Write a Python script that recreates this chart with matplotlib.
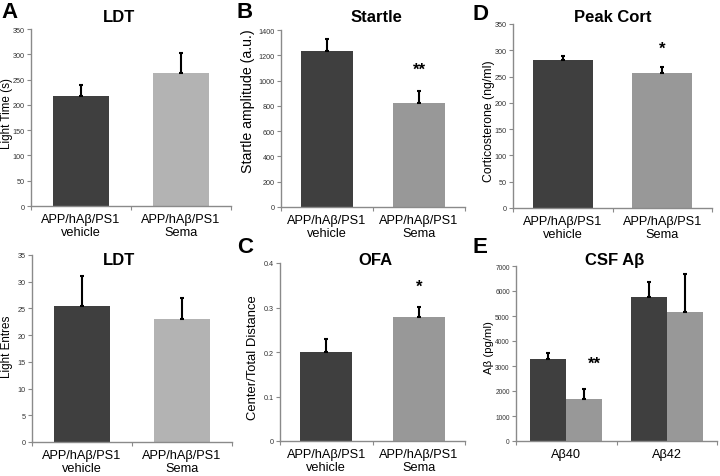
import numpy as np
import matplotlib
matplotlib.use("Agg")
import matplotlib.pyplot as plt

plt.rcParams['font.family'] = ['Liberation Sans', 'DejaVu Sans']

# data
groups = ['APP/hA\u03b2/PS1\nvehicle', 'APP/hA\u03b2/PS1\nSema']

ldt_time = [217, 263]
ldt_time_err = [23, 39]

ldt_entries = [25.5, 23.1]
ldt_entries_err = [5.5, 3.9]

startle = [1235, 822]
startle_err = [95, 98]

ofa = [0.200, 0.278]
ofa_err = [0.030, 0.024]

cort = [282, 257]
cort_err = [8, 11]

ab_labels = ['A\u03b240', 'A\u03b242']
ab_vehicle = [3300, 5750]
ab_vehicle_err = [230, 620]
ab_sema = [1690, 5180]
ab_sema_err = [400, 1500]

dark = '#3f3f3f'
light_a = '#b3b3b3'
light = '#989898'
W, H = 720, 477

fig = plt.figure(figsize=(7.2, 4.77), dpi=100)


def box(l, t, r, b):
    return [l / W, 1 - b / H, (r - l) / W, (b - t) / H]


def style(ax, ymax, step, fmt, tsize=5.2):
    for s in ['top', 'right']:
        ax.spines[s].set_visible(False)
    for s in ['left', 'bottom']:
        ax.spines[s].set_color('#8a8a8a')
        ax.spines[s].set_linewidth(1.0)
    ax.set_ylim(0, ymax)
    ticks = np.arange(0, ymax + step / 2, step)
    ax.set_yticks(ticks)
    ax.set_yticklabels([fmt(v) for v in ticks], fontsize=tsize, color='#333333')
    ax.tick_params(axis='y', length=3, width=0.8, color='#8a8a8a', pad=1.5)
    ax.set_xlim(-0.5, 1.5)
    ax.set_xticks([-0.5, 0.5, 1.5])
    ax.set_xticklabels([])
    ax.tick_params(axis='x', length=3, width=0.8, color='#8a8a8a')


def ylab(x, y, s, size):
    fig.text(x / W, 1 - y / H, s, rotation=90, ha='center', va='center', fontsize=size)


def two_bar(ax, vals, errs, c2, ymax, step, fmt, width=0.56, tsize=5.2):
    x = np.arange(2)
    ax.bar(x, vals, width=width, color=[dark, c2], edgecolor='none', zorder=2)
    ax.errorbar(x, vals, yerr=[[0, 0], errs], fmt='none', ecolor='black',
                elinewidth=1.5, capsize=1.5, capthick=1.5, zorder=3)
    style(ax, ymax, step, fmt, tsize)
    for xi, g in zip(x, groups):
        ax.text(xi, -0.04 * ymax, g, ha='center', va='top', fontsize=9.2,
                linespacing=1.05, transform=ax.transData)


def title(x, y, s):
    fig.text(x / W, 1 - y / H, s, ha='center', va='baseline', fontsize=12, fontweight='bold')


def letter(x, y, s):
    fig.text(x / W, 1 - y / H, s, ha='left', va='baseline', fontsize=16, fontweight='bold')


# A top
ax = fig.add_axes(box(31, 30, 231, 207))
two_bar(ax, ldt_time, ldt_time_err, light_a, 350, 50, lambda v: f'{v:.0f}')
ylab(7, 114, 'Light Time (s)', 8.4)
title(119, 22, 'LDT')
letter(1, 18, 'A')

# A bottom
ax = fig.add_axes(box(32, 256, 232, 443))
two_bar(ax, ldt_entries, ldt_entries_err, light_a, 35, 5, lambda v: f'{v:.0f}')
ylab(7, 347, 'Light Entres', 8.4)
title(119, 265, 'LDT')

# B
ax = fig.add_axes(box(281, 31, 465, 208))
two_bar(ax, startle, startle_err, light, 1400, 200, lambda v: f'{v:.0f}')
ax.text(1, 1030, '**', ha='center', va='bottom', fontsize=12, fontweight='bold')
ylab(248, 101, 'Startle amplitude (a.u.)', 10.2)
title(376, 22, 'Startle')
letter(237, 18, 'B')

# C
ax = fig.add_axes(box(280, 264, 465, 442))
two_bar(ax, ofa, ofa_err, light,
        0.4, 0.1, lambda v: '0' if v == 0 else f'{v:.1f}')
ax.text(1, 0.33, '*', ha='center', va='bottom', fontsize=12, fontweight='bold')
ylab(253, 358, 'Center/Total Distance', 9.4)
title(375, 265, 'OFA')
letter(237, 253, 'C')

# D
ax = fig.add_axes(box(513, 25, 712, 209))
two_bar(ax, cort, cort_err, light, 350, 50, lambda v: f'{v:.0f}', width=0.6)
ax.text(1, 290, '*', ha='center', va='bottom', fontsize=12, fontweight='bold')
ylab(489, 121, 'Corticosterone (ng/ml)', 8.8)
title(613, 22, 'Peak Cort')
letter(473, 20, 'D')

# E
ax = fig.add_axes(box(516, 267, 717, 442))
x = np.arange(2)
bw = 0.36
ax.bar(x - bw / 2, ab_vehicle, width=bw, color=dark, edgecolor='none', zorder=2)
ax.bar(x + bw / 2, ab_sema, width=bw, color=light, edgecolor='none', zorder=2)
ax.errorbar(x - bw / 2, ab_vehicle, yerr=[[0, 0], ab_vehicle_err], fmt='none', ecolor='black',
            elinewidth=1.5, capsize=1.5, capthick=1.5, zorder=3)
ax.errorbar(x + bw / 2, ab_sema, yerr=[[0, 0], ab_sema_err], fmt='none', ecolor='black',
            elinewidth=1.5, capsize=1.5, capthick=1.5, zorder=3)
style(ax, 7000, 1000, lambda v: f'{v:.0f}', tsize=4.8)
for xi, g in zip(x, ab_labels):
    ax.text(xi, -0.04 * 7000, g, ha='center', va='top', fontsize=9.2)
ax.text(0.28, 2800, '**', ha='center', va='bottom', fontsize=12, fontweight='bold')
ylab(489, 348, 'A\u03b2 (pg/ml)', 8.2)
title(615, 265, 'CSF A\u03b2')
letter(473, 253, 'E')

fig.savefig('out.png', dpi=100, facecolor='white')
